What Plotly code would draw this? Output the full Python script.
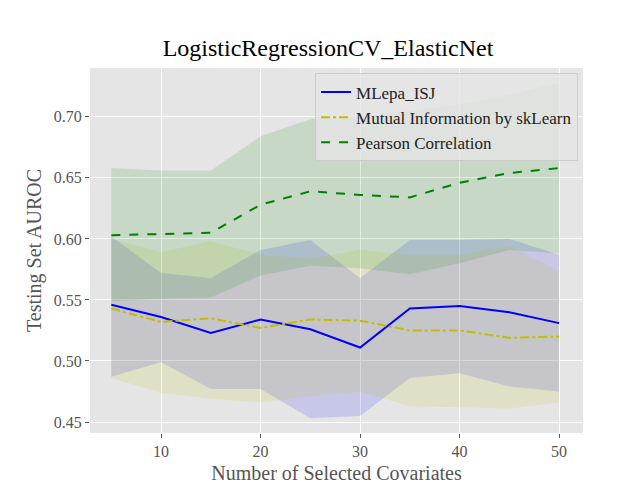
import plotly.graph_objects as go

x = [5, 10, 15, 20, 25, 30, 35, 40, 45, 50]
ml_mean = [0.546, 0.536, 0.523, 0.534, 0.526, 0.511, 0.543, 0.545, 0.540, 0.531]
ml_up = [0.602, 0.572, 0.568, 0.591, 0.599, 0.568, 0.599, 0.599, 0.600, 0.587]
ml_lo = [0.487, 0.499, 0.477, 0.477, 0.453, 0.455, 0.486, 0.490, 0.479, 0.475]
mi_mean = [0.543, 0.532, 0.535, 0.527, 0.534, 0.533, 0.525, 0.525, 0.519, 0.520]
mi_up = [0.600, 0.589, 0.598, 0.587, 0.584, 0.591, 0.587, 0.587, 0.594, 0.574]
mi_lo = [0.486, 0.474, 0.469, 0.466, 0.471, 0.475, 0.463, 0.462, 0.461, 0.466]
pc_mean = [0.603, 0.604, 0.605, 0.628, 0.639, 0.636, 0.634, 0.646, 0.654, 0.658]
pc_up = [0.658, 0.656, 0.656, 0.684, 0.698, 0.700, 0.705, 0.710, 0.718, 0.728]
pc_lo = [0.549, 0.551, 0.552, 0.570, 0.578, 0.576, 0.571, 0.580, 0.591, 0.588]

fig = go.Figure()
series = [
    ("MLepa_ISJ", ml_mean, ml_up, ml_lo, "#0000ff", "rgba(0,0,255,0.13)", "solid"),
    ("Mutual Information by skLearn", mi_mean, mi_up, mi_lo, "#bfbf00", "rgba(191,191,0,0.13)", "dashdot"),
    ("Pearson Correlation", pc_mean, pc_up, pc_lo, "#008000", "rgba(0,128,0,0.13)", "dash"),
]
for name, m, up, lo, c, fc, dash in series:
    fig.add_trace(go.Scatter(x=x + x[::-1], y=up + lo[::-1], fill="toself", fillcolor=fc,
                             line=dict(width=0), hoverinfo="skip", showlegend=False))
for name, m, up, lo, c, fc, dash in series:
    fig.add_trace(go.Scatter(x=x, y=m, mode="lines", name=name,
                             line=dict(color=c, width=2, dash=dash)))

font = "Liberation Serif, DejaVu Serif, serif"
fig.update_layout(
    width=640, height=480,
    margin=dict(l=82, r=65, t=60, b=55, autoexpand=False),
    paper_bgcolor="white", plot_bgcolor="#e5e5e5",
    font=dict(family=font, size=16, color="#555555"),
    title=dict(text="LogisticRegressionCV_ElasticNet", x=0.5, xanchor="center", y=0.935,
               font=dict(size=24, color="black", family=font)),
    xaxis=dict(range=[2.86, 52.4], tickvals=[10, 20, 30, 40, 50], gridcolor="white",
               zeroline=False, ticks="outside", ticklen=4, tickcolor="#555", automargin=False,
               title=dict(text="Number of Selected Covariates", font=dict(size=20, color="#555"), standoff=6)),
    yaxis=dict(range=[0.441, 0.740], tickvals=[0.45, 0.5, 0.55, 0.6, 0.65, 0.7],
               ticktext=["0.45", "0.50", "0.55", "0.60", "0.65", "0.70"], gridcolor="white",
               zeroline=False, ticks="outside", ticklen=4, tickcolor="#555", automargin=False,
               title=dict(text="Testing Set AUROC", font=dict(size=20, color="#555"), standoff=6)),
    legend=dict(x=0.99, y=0.985, xanchor="right", yanchor="top", bgcolor="rgba(229,229,229,0.8)",
                bordercolor="#cccccc", borderwidth=1, font=dict(size=17, color="#222"),
                tracegroupgap=0),
)
fig.write_html("out.html")
